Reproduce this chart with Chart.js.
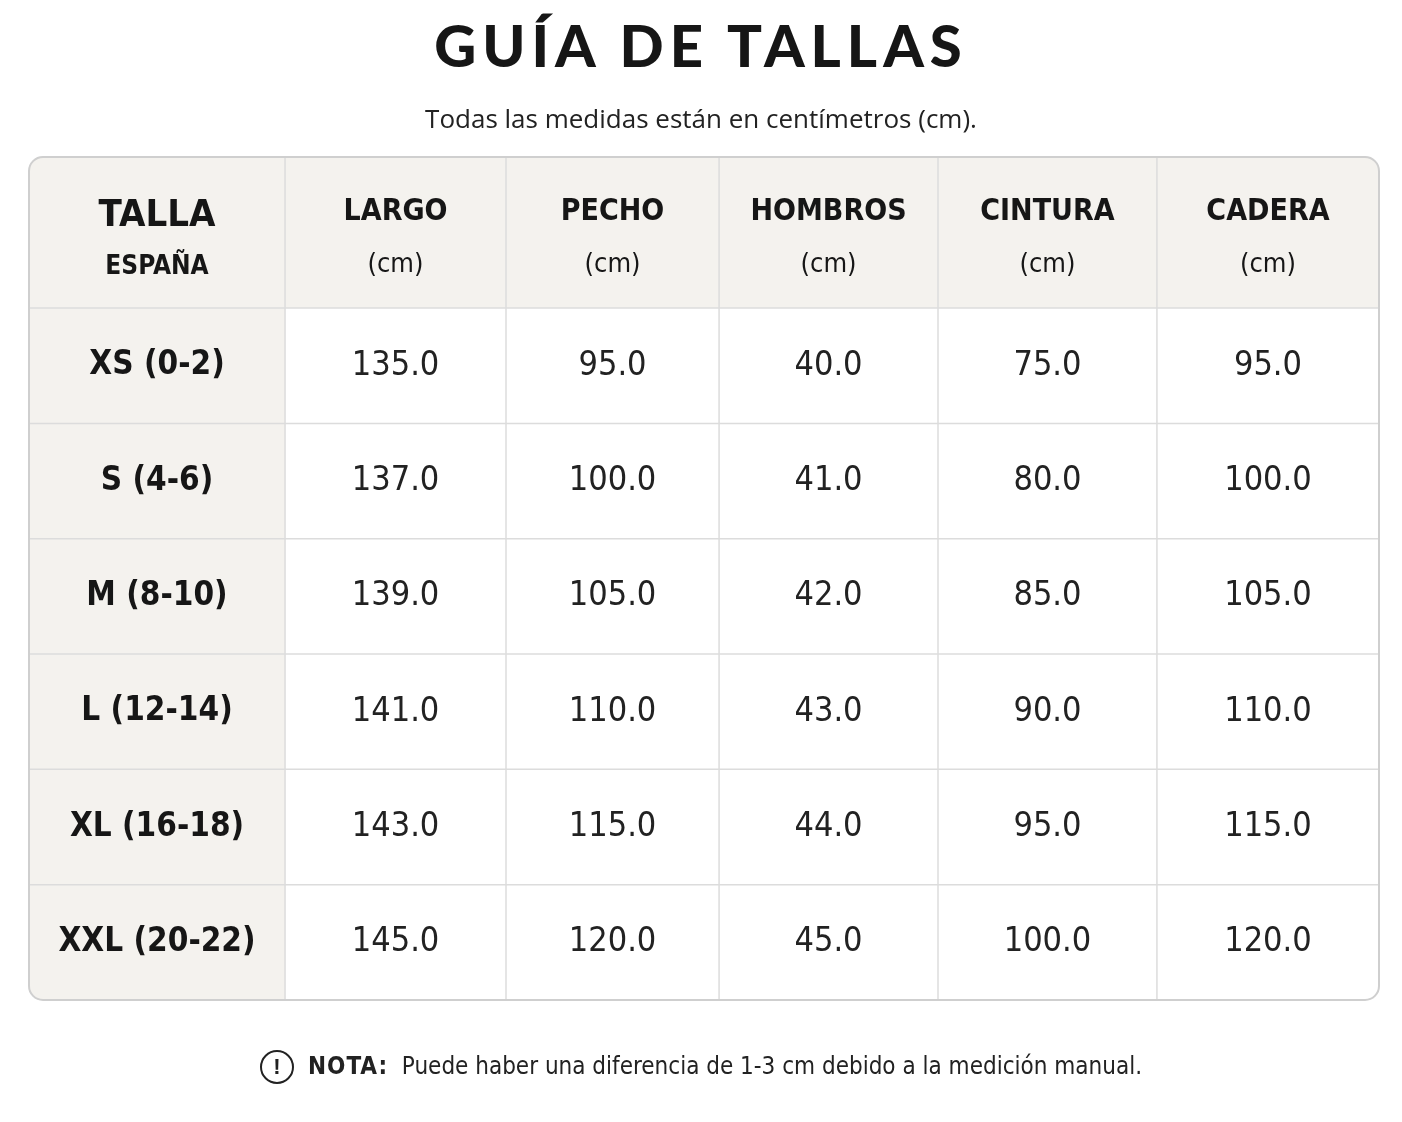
<!DOCTYPE html>
<html><head><meta charset="utf-8">
<script src="https://cdn.jsdelivr.net/npm/chart.js@4/dist/chart.umd.min.js"></script>
<style>
html,body{margin:0;padding:0;background:#fff;width:1402px;height:1122px;overflow:hidden}
#wrap{position:relative;width:1402px;height:1122px}
canvas{position:absolute;left:0;top:0}
.t{position:absolute;left:0;width:1402px;text-align:center;color:#161616}
#title{top:10px;font:900 58px Lato,sans-serif;letter-spacing:6px}
#sub{top:100px;font:400 26px 'Open Sans',sans-serif;color:#222}
#note{top:1050px;font:400 24px 'Liberation Sans Narrow','DejaVu Sans Condensed',sans-serif;color:#222}
#note b{font-weight:700;letter-spacing:1px}
.ic{display:inline-block;width:30px;height:30px;border:2.5px solid #222;border-radius:50%;font:700 22px sans-serif;line-height:30px;text-align:center;vertical-align:middle;margin-right:14px}
</style></head><body><div id="wrap">
<canvas id="c" width="1402" height="1122"></canvas>
<div class="t" id="title">GUÍA DE TALLAS</div>
<div class="t" id="sub">Todas las medidas están en centímetros (cm).</div>
<div class="t" id="note"><span class="ic">!</span><b>NOTA:</b>&nbsp; Puede haber una diferencia de 1-3 cm debido a la medición manual.</div>
</div>
<script>
const columns=['LARGO','PECHO','HOMBROS','CINTURA','CADERA'];
const sizes=['XS (0-2)','S (4-6)','M (8-10)','L (12-14)','XL (16-18)','XXL (20-22)'];
const largo=[135,137,139,141,143,145];
const pecho=[95,100,105,110,115,120];
const hombros=[40,41,42,43,44,45];
const cintura=[75,80,85,90,95,100];
const cadera=[95,100,105,110,115,120];
const series=[largo,pecho,hombros,cintura,cadera];
const colEdges=[0,1.138,2.12,3.067,4.04,5.013,6];
const rowEdges=[0,1.31,2.31,3.31,4.31,5.31,6.31,7.31];
const cond="'Liberation Sans Narrow','DejaVu Sans Condensed',sans-serif";
const tablePlugin={id:'tbl',afterDraw(ch){
 const c=ch.ctx,xs=ch.scales.x,ys=ch.scales.y;
 const X=v=>xs.getPixelForValue(v),Y=v=>ys.getPixelForValue(v);
 const L=X(0),R=X(6),T=Y(0),B=Y(7.31),r=14;
 c.save();
 c.beginPath();c.roundRect(L,T,R-L,B-T,r);c.fillStyle='#fff';c.fill();c.clip();
 c.fillStyle='#f4f2ee';
 c.fillRect(L,T,R-L,Y(rowEdges[1])-T);
 c.fillRect(L,T,X(colEdges[1])-L,B-T);
 c.strokeStyle='#dcdcdc';c.lineWidth=1.5;
 for(let i=1;i<colEdges.length-1;i++){c.beginPath();c.moveTo(X(colEdges[i]),T);c.lineTo(X(colEdges[i]),B);c.stroke();}
 for(let i=1;i<rowEdges.length-1;i++){c.beginPath();c.moveTo(L,Y(rowEdges[i]));c.lineTo(R,Y(rowEdges[i]));c.stroke();}
 c.restore();
 c.beginPath();c.roundRect(L,T,R-L,B-T,r);c.strokeStyle='#cfcfcf';c.lineWidth=2;c.stroke();
 c.textAlign='center';c.textBaseline='middle';c.fillStyle='#161616';
 const cx=i=>(X(colEdges[i])+X(colEdges[i+1]))/2, cy=j=>(Y(rowEdges[j])+Y(rowEdges[j+1]))/2;
 c.font='700 38px '+cond;c.fillText('TALLA',cx(0),Y(0.51));
 c.font='700 26px '+cond;c.fillText('ESPAÑA',cx(0),Y(0.96));
 columns.forEach((h,i)=>{c.font='700 30px '+cond;c.fillText(h,cx(i+1),Y(0.48));
  c.font='400 27px '+cond;c.fillText('(cm)',cx(i+1),Y(0.94));});
 sizes.forEach((s,j)=>{c.font='700 33px '+cond;c.fillText(s,cx(0),cy(j+1));
  series.forEach((arr,i)=>{c.font='400 34px '+cond;c.fillStyle='#222';c.fillText(arr[j].toFixed(1),cx(i+1),cy(j+1));c.fillStyle='#161616';});});
}};
new Chart(document.getElementById('c'),{type:'scatter',data:{datasets:[{data:[]}]},
 options:{responsive:false,animation:false,devicePixelRatio:1,
  layout:{padding:{left:29,right:23,top:157,bottom:122}},
  plugins:{legend:{display:false},tooltip:{enabled:false}},
  scales:{x:{type:'linear',min:0,max:6,display:false},y:{type:'linear',min:0,max:7.31,reverse:true,display:false}}},
 plugins:[tablePlugin]});
</script></body></html>
